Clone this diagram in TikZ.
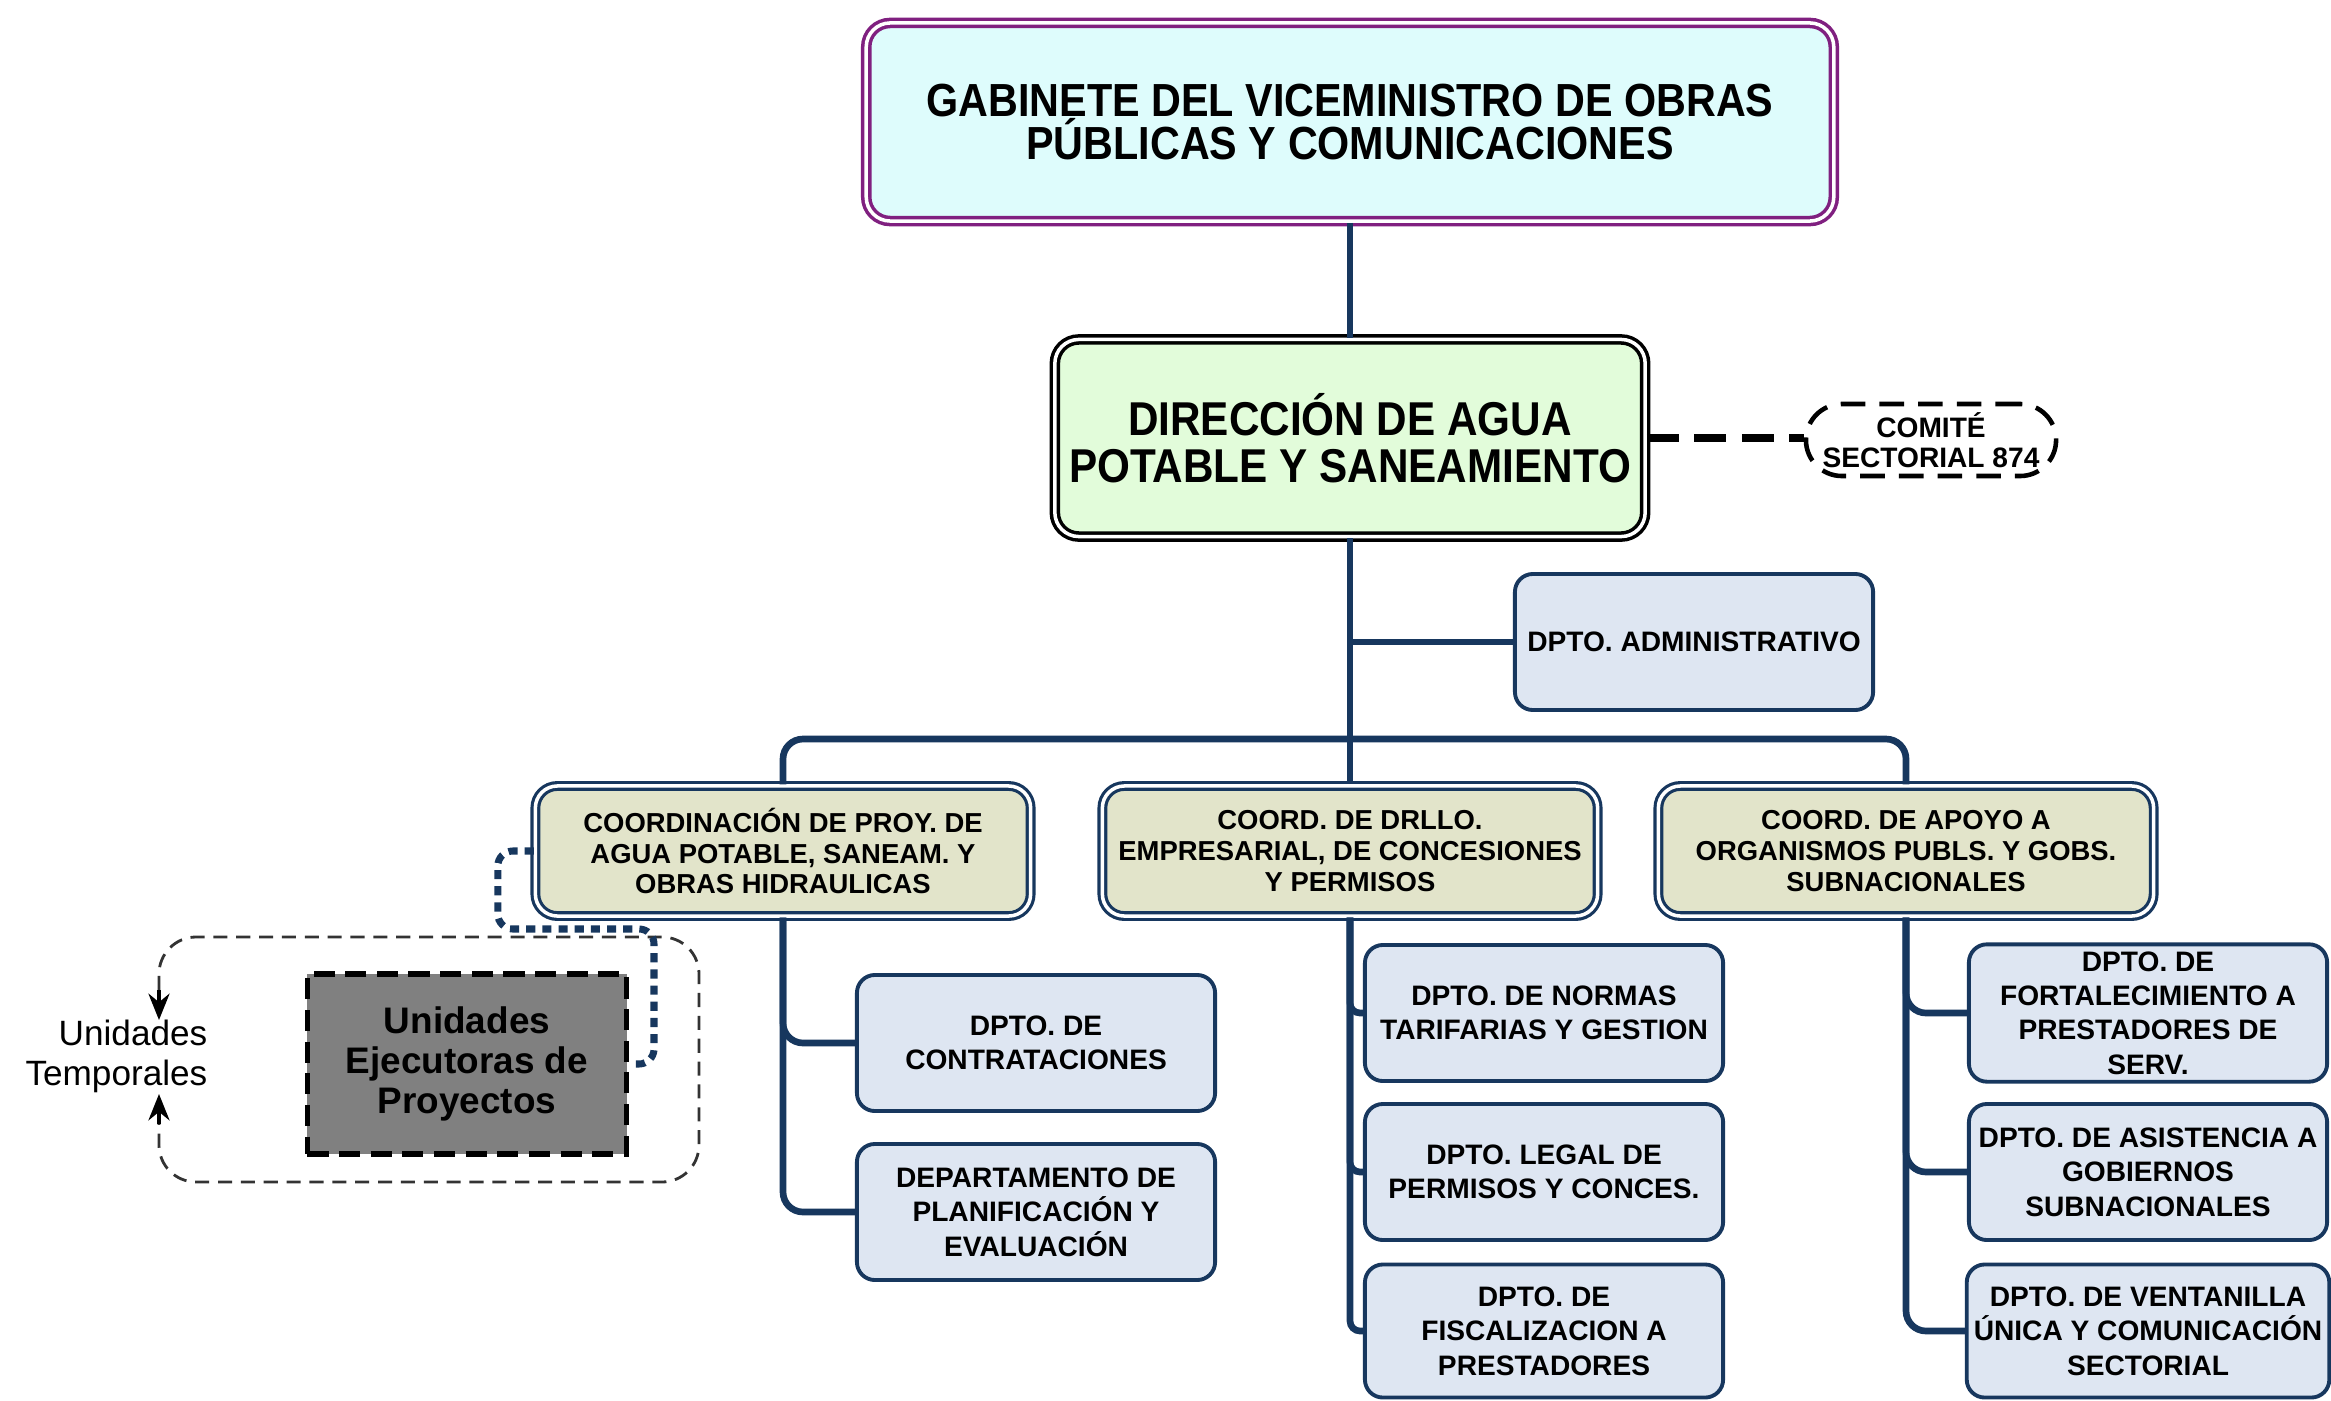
\documentclass[tikz,border=0pt]{standalone}
\usepackage{fontspec}
\usetikzlibrary{arrows.meta}
\setmainfont{Liberation Sans}
\newfontfamily\narrowfont{Liberation Sans}[FakeStretch=0.89]
\definecolor{navy}{RGB}{23,55,94}
\definecolor{gabline}{RGB}{128,32,128}
\definecolor{gabfill}{RGB}{222,252,252}
\definecolor{dirfill}{RGB}{226,252,218}
\definecolor{coordfill}{RGB}{226,228,202}
\definecolor{deptfill}{RGB}{222,230,242}
\definecolor{ejecfill}{RGB}{128,128,128}
\begin{document}
\begin{tikzpicture}[x=0.01cm,y=-0.01cm,>={Stealth[length=7.5pt,width=6pt]},
    conn/.style={navy,line width=1.9pt},
    dotconn/.style={navy,line width=2pt,dash pattern=on 2.6pt off 2pt},
    box/.style={draw,rounded corners=0.18cm,align=center,inner sep=2pt,
        font=\bfseries\fontsize{8}{9.8}\selectfont},
    gabbox/.style={box,draw=gabline,line width=1pt,double=white,double distance=1pt,
        fill=gabfill,rounded corners=0.24cm,minimum width=9.67cm,minimum height=1.98cm,
        font=\narrowfont\bfseries\fontsize{13.2}{12.2}\selectfont},
    dirbox/.style={box,draw=black,line width=1pt,double=white,double distance=1pt,
        fill=dirfill,rounded corners=0.24cm,minimum width=5.9cm,minimum height=1.97cm,
        font=\narrowfont\bfseries\fontsize{13.5}{13.2}\selectfont},
    coordbox/.style={box,draw=navy,line width=0.9pt,double=white,double distance=1pt,
        fill=coordfill,rounded corners=0.22cm,minimum width=4.95cm,minimum height=1.3cm,
        font=\bfseries\fontsize{7.8}{8.8}\selectfont},
    deptbox/.style={box,draw=navy,line width=1.1pt,fill=deptfill,
        minimum width=3.58cm,minimum height=1.36cm}]
\useasboundingbox (0,0) rectangle (2331,1400);

% top levels
\node[gabbox] (gab) at (1350,122) {GABINETE DEL VICEMINISTRO DE OBRAS\\PÚBLICAS Y COMUNICACIONES};
\node[dirbox] (dir) at (1350,438) {DIRECCIÓN DE AGUA\\POTABLE Y SANEAMIENTO};
\node[draw,line width=1.3pt,dash pattern=on 7pt off 4pt,rounded corners=0.36cm,
    minimum width=2.5cm,minimum height=0.72cm,inner sep=1pt,align=center,
    font=\bfseries\fontsize{8}{8.6}\selectfont] (com) at (1931,440) {COMITÉ\\SECTORIAL 874};
\node[deptbox] (adm) at (1694,642) {DPTO. ADMINISTRATIVO};

% coordinations
\node[coordbox] (c1) at (783,851) {COORDINACIÓN DE PROY. DE\\AGUA POTABLE, SANEAM. Y\\OBRAS HIDRAULICAS};
\node[coordbox] (c2) at (1350,851) {COORD. DE DRLLO.\\EMPRESARIAL, DE CONCESIONES\\Y PERMISOS};
\node[coordbox] (c3) at (1906,851) {COORD. DE APOYO A\\ORGANISMOS PUBLS. Y GOBS.\\SUBNACIONALES};

% departments
\node[deptbox] (contr) at (1036,1043) {DPTO. DE\\CONTRATACIONES};
\node[deptbox] (plan) at (1036,1212) {DEPARTAMENTO DE\\PLANIFICACIÓN Y\\EVALUACIÓN};
\node[deptbox] (norm) at (1544,1013) {DPTO. DE NORMAS\\TARIFARIAS Y GESTION};
\node[deptbox] (legal) at (1544,1172) {DPTO. LEGAL DE\\PERMISOS Y CONCES.};
\node[deptbox,minimum height=1.33cm] (fisc) at (1544,1331) {DPTO. DE\\FISCALIZACION A\\PRESTADORES};
\node[deptbox] (fort) at (2148,1013) {DPTO. DE\\FORTALECIMIENTO A\\PRESTADORES DE\\SERV.};
\node[deptbox] (asis) at (2148,1172) {DPTO. DE ASISTENCIA A\\GOBIERNOS\\SUBNACIONALES};
\node[deptbox,minimum height=1.33cm] (vent) at (2148,1331) {DPTO. DE VENTANILLA\\ÚNICA Y COMUNICACIÓN\\SECTORIAL};

% temporary units
\node[draw=black,line width=1.6pt,dash pattern=on 6pt off 3pt,fill=ejecfill,
    minimum width=3.19cm,minimum height=1.8cm,align=center,
    font=\bfseries\fontsize{10.5}{11.4}\selectfont] (ejec) at (467,1064) {Unidades\\Ejecutoras de\\Proyectos};
\node[anchor=east,align=right,inner sep=0pt,font=\fontsize{10}{11.4}\selectfont] (temp) at (208,1056) {Unidades\\Temporales};
\coordinate (tdn) at (159,1020);
\coordinate (sdn) at (159,990);
\coordinate (tup) at (159,1094);
\coordinate (sup) at (159,1124);
\draw[black!80,line width=0.8pt,dash pattern=on 4pt off 2.5pt,rounded corners=0.37cm]
    (sdn) -- (159,937) -- (699,937) -- (699,1182) -- (159,1182) -- (sup);
\draw[->,line width=1pt] (sdn) -- (tdn);
\draw[->,line width=1pt] (sup) -- (tup);

% connectors
\coordinate (bus) at (1350,739);
\draw[conn] (gab.south) -- (dir.north);
\draw[conn] (dir.south) -- (c2.north);
\draw[conn] (dir.south |- adm.west) -- (adm.west);
\draw[conn,rounded corners=0.2cm] (c1.north) |- (bus) -| (c3.north);
\draw[line width=2pt,dash pattern=on 9pt off 4.5pt] (dir.east) -- (dir.east -| com.west);
\foreach \d in {contr,plan}
    \draw[conn,rounded corners=0.2cm] (c1.south) |- (\d.west);
\foreach \d in {norm,legal,fisc}
    \draw[conn,rounded corners=0.1cm] (c2.south) |- (\d.west);
\foreach \d in {fort,asis,vent}
    \draw[conn,rounded corners=0.2cm] (c3.south) |- (\d.west);
\draw[dotconn,rounded corners=0.15cm] (c1.west) -- ++(-36,0) |- (654,929) |- (ejec.east);
\end{tikzpicture}
\end{document}
